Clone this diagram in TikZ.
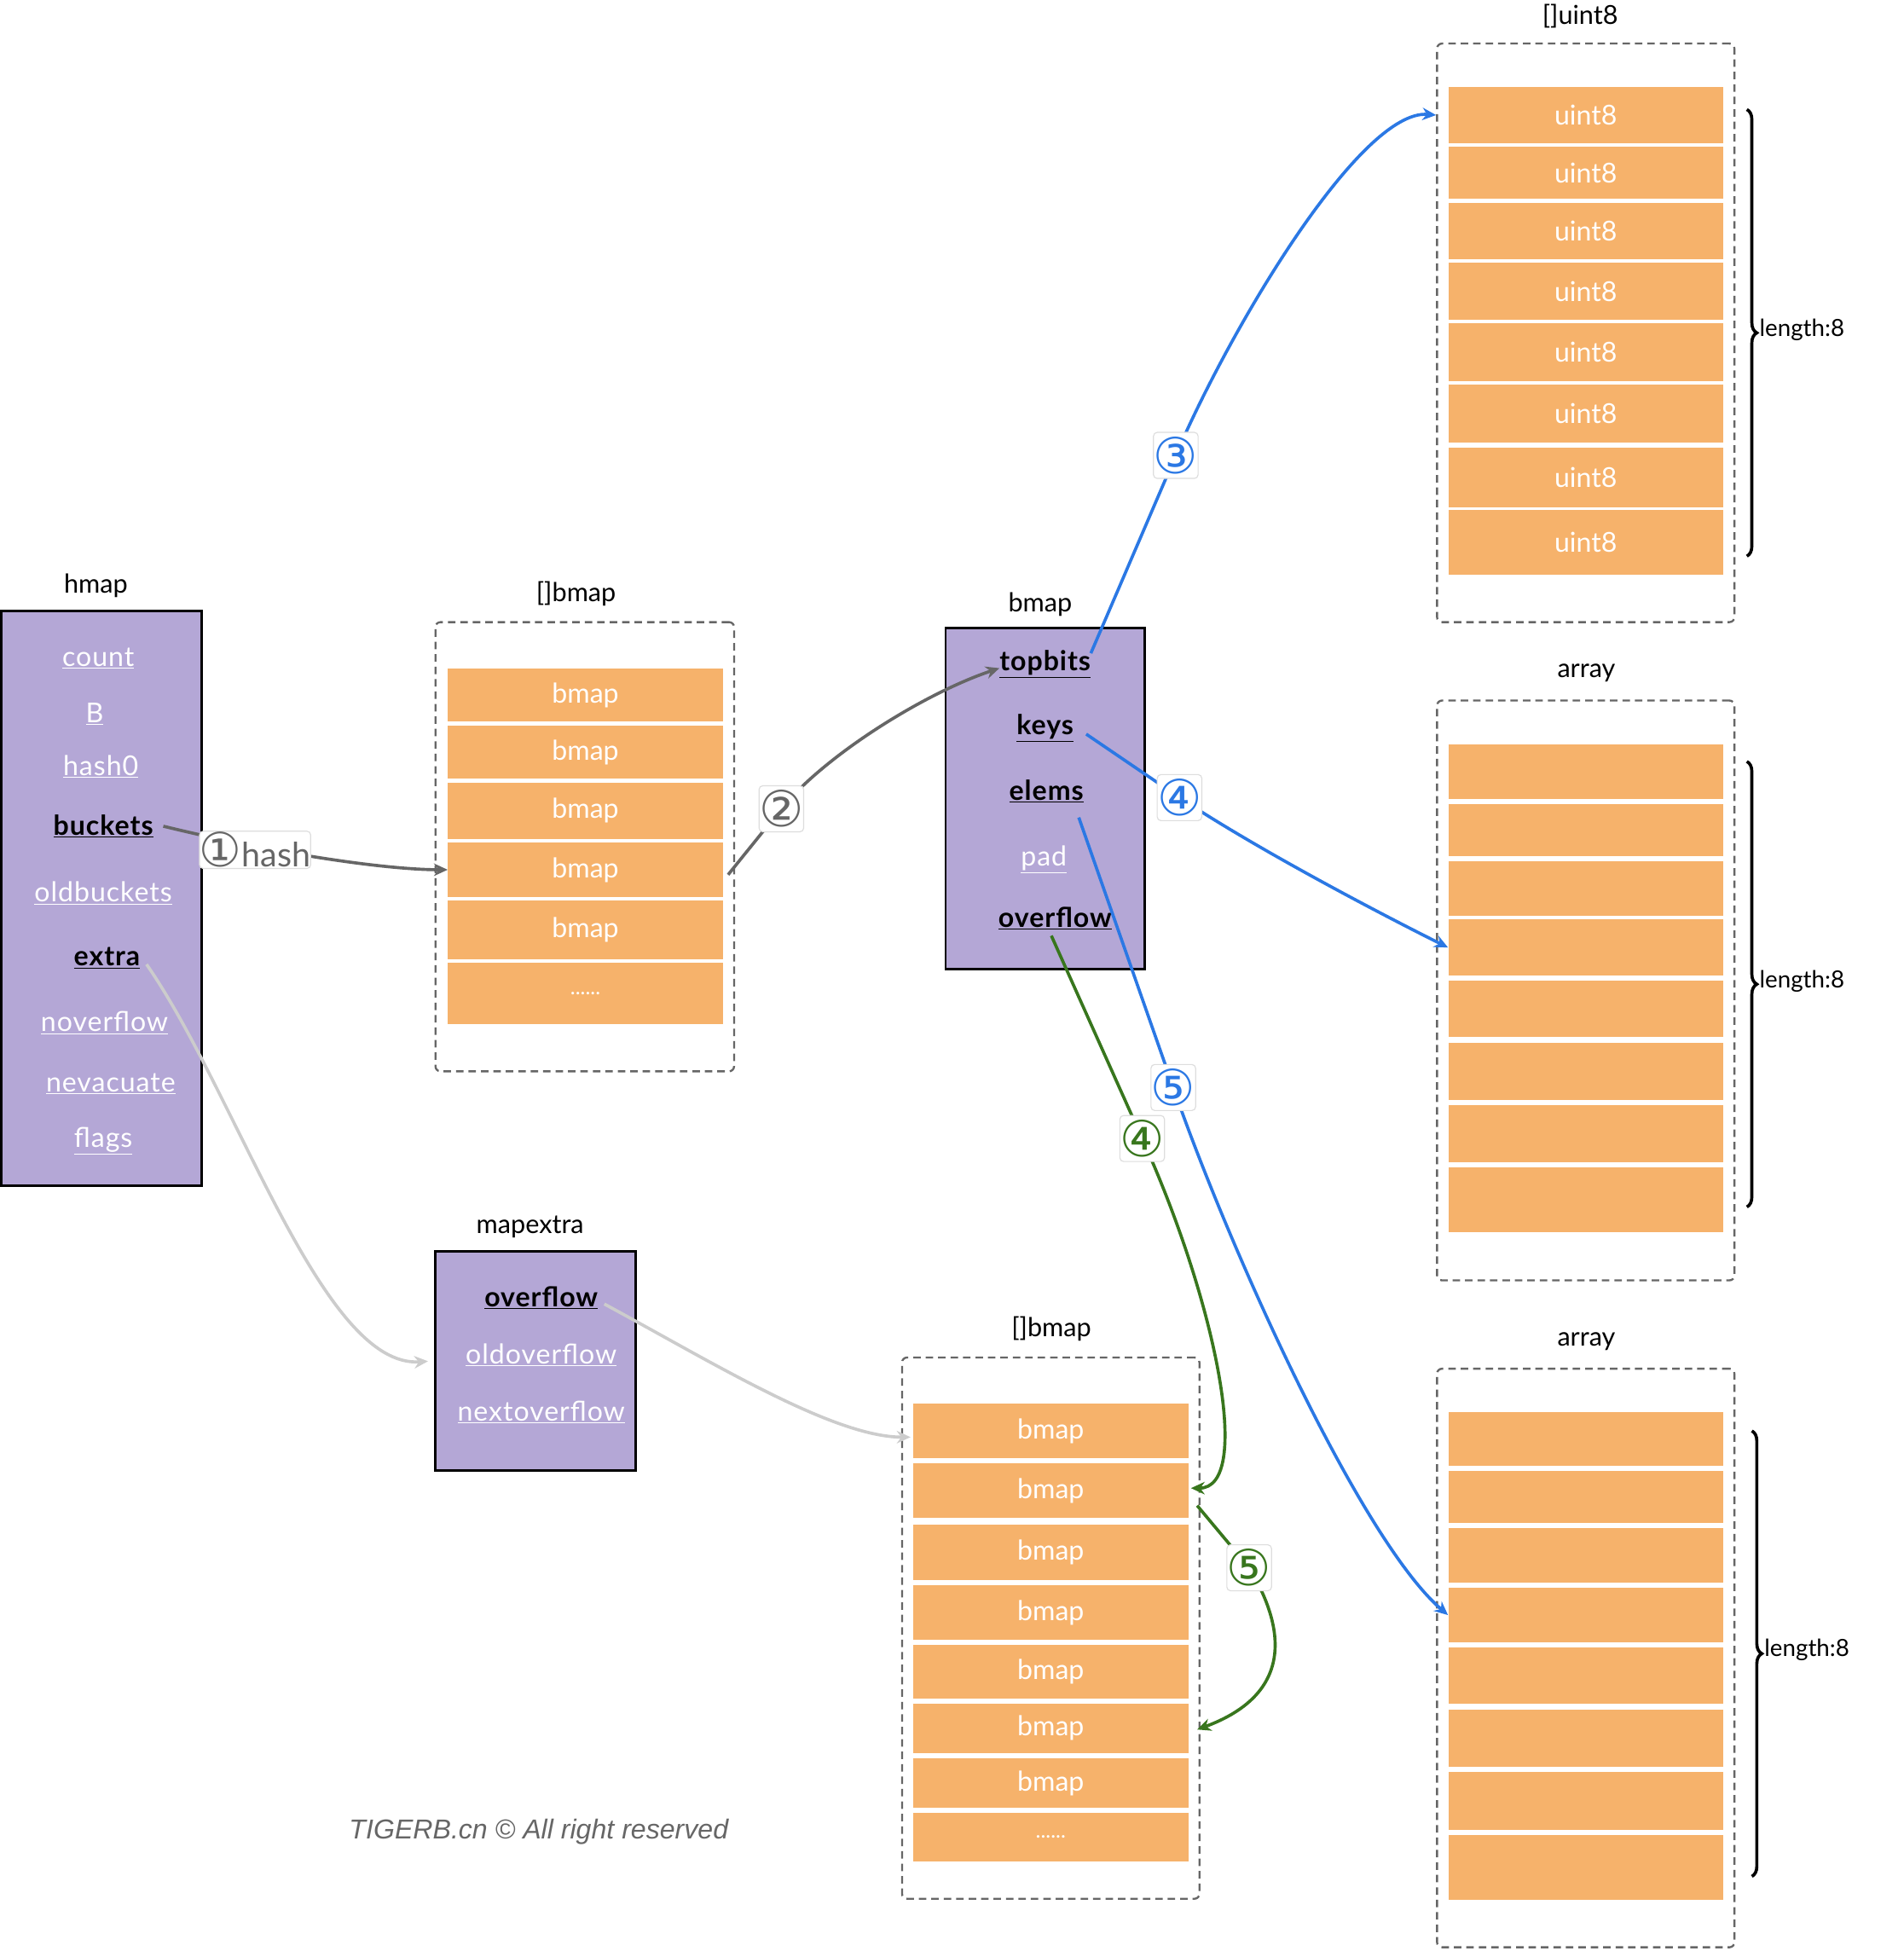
\documentclass[tikz,border=0pt]{standalone}
\usepackage{fontspec}
\setmainfont{Lato}
\newfontfamily\circfont{DejaVu Sans}
\newfontfamily\wmfont{Liberation Sans}
\usetikzlibrary{arrows.meta,decorations.pathreplacing,calc}
\definecolor{purp}{HTML}{B4A7D6}
\definecolor{orng}{HTML}{F6B26B}
\definecolor{bluec}{HTML}{2B78E4}
\definecolor{greenc}{HTML}{38761D}
\definecolor{grayc}{HTML}{666666}
\definecolor{lgray}{HTML}{CCCCCC}
\definecolor{lblc}{HTML}{DDDDDD}
\newcommand\cnum[1]{{\circfont\fontsize{38}{40}\selectfont #1}}
\begin{document}
\begin{tikzpicture}[x=1pt,y=-1pt,
  title/.style={font=\fontsize{21}{24}\selectfont, text=black, inner sep=0},
  fld/.style={font=\fontsize{22}{24}\selectfont\addfontfeatures{LetterSpace=3}, text=white, inner sep=0},
  kfld/.style={font=\fontsize{22}{24}\selectfont\bfseries\addfontfeatures{LetterSpace=3}, text=black, inner sep=0},
  pbox/.style={draw=black, line width=2pt, fill=purp, inner sep=0},
  dbox/.style={draw=grayc, line width=1.6pt, dash pattern=on 6pt off 4pt, rounded corners=4pt, inner sep=0},
  cell/.style={fill=orng, inner sep=0, minimum width=221pt, text=white, font=\fontsize{22}{24}\selectfont},
  dots/.style={font=\fontsize{17}{18}\selectfont},
  lbl/.style={fill=white, draw=lblc, line width=0.8pt, rounded corners=3pt, inner sep=0, minimum width=31pt, minimum height=37pt, font=\circfont\fontsize{40}{42}\selectfont},
  conn/.style={line width=2.5pt},
  tip/.style={-{Stealth[length=11pt,width=10pt]}},
  brc/.style={decorate, decoration={brace, amplitude=8pt}, line width=2.5pt, draw=black},
  lenlbl/.style={font=\fontsize{19}{20}\selectfont, anchor=west, inner sep=0}
]
\fill[white] (0,0) rectangle (1530,1568);
\useasboundingbox (0,0) rectangle (1530,1568);

% ---------- hmap ----------
\node[title] (thm) at (77,471) {hmap};
\node[pbox, minimum width=161pt, minimum height=462pt] (hm) at (81.5,722) {};
\node[fld] (f1) at (79,529) {\underline{count}};
\node[fld] (f2) at (76,574) {\underline{B}};
\node[fld] (f3) at (81,616) {\underline{hash0}};
\node[kfld] (bk) at (83,664) {\underline{buckets}};
\node[fld] (f5) at (83,718) {\underline{oldbuckets}};
\node[kfld] (ex) at (86,770) {\underline{extra}};
\node[fld] (f7) at (84,822) {\underline{noverflow}};
\node[fld] (f8) at (89,871) {\underline{nevacuate}};
\node[fld] (f9) at (83,917) {\underline{flags}};

% ---------- []bmap (top) ----------
\node[title] (tbb1) at (463,477) {[]bmap};
\node[dbox, minimum width=240pt, minimum height=361pt] (bb1) at (470,680.5) {};
\node[cell, minimum height=43pt] (b1) at (470.5,558.5) {bmap};
\node[cell, minimum height=43pt] (b2) at (470.5,604.5) {bmap};
\node[cell, minimum height=45pt] (b3) at (470.5,651.5) {bmap};
\node[cell, minimum height=44pt] (b4) at (470.5,699) {bmap};
\node[cell, minimum height=47pt] (b5) at (470.5,747.5) {bmap};
\node[cell, minimum height=49pt, dots] (b6) at (470.5,798.5) {......};

% ---------- bmap ----------
\node[title] (tbm) at (836,486) {bmap};
\node[pbox, minimum width=160pt, minimum height=274pt] (bm) at (840,642) {};
\node[kfld] (tb) at (840,534) {\underline{topbits}};
\node[kfld] (ky) at (840,585) {\underline{keys}};
\node[kfld] (el) at (841,636) {\underline{elems}};
\node[fld] (pd) at (839,691) {\underline{pad}};
\node[kfld] (ov) at (848,738) {\underline{overflow}};

% ---------- []uint8 ----------
\node[title] (tub) at (1270,13) {[]uint8};
\node[dbox, minimum width=239pt, minimum height=465pt] (ub) at (1274.5,267.5) {};
\node[cell, minimum height=45pt] (u1) at (1274.5,92.5) {uint8};
\node[cell, minimum height=42pt] (u2) at (1274.5,139) {uint8};
\node[cell, minimum height=45pt] (u3) at (1274.5,185.5) {uint8};
\node[cell, minimum height=46pt] (u4) at (1274.5,234) {uint8};
\node[cell, minimum height=46pt] (u5) at (1274.5,283) {uint8};
\node[cell, minimum height=47pt] (u6) at (1274.5,332.5) {uint8};
\node[cell, minimum height=48pt] (u7) at (1274.5,384) {uint8};
\node[cell, minimum height=52pt] (u8) at (1274.5,436) {uint8};
\coordinate (br1a) at (1404,88);
\coordinate (br1b) at (1404,447);
\draw[brc] (br1a) -- (br1b);
\node[lenlbl] (len1) at (1414,265) {length:8};

% ---------- array (1) ----------
\node[title] (ta1) at (1275,541) {array};
\node[dbox, minimum width=239pt, minimum height=466pt] (ab1) at (1274.5,796) {};
\node[cell, minimum height=44pt] (a1) at (1274.5,620) {};
\node[cell, minimum height=42pt] (a2) at (1274.5,667) {};
\node[cell, minimum height=44pt] (a3) at (1274.5,714) {};
\node[cell, minimum height=45pt] (a4) at (1274.5,761.5) {};
\node[cell, minimum height=45pt] (a5) at (1274.5,810.5) {};
\node[cell, minimum height=46pt] (a6) at (1274.5,861) {};
\node[cell, minimum height=46pt] (a7) at (1274.5,911) {};
\node[cell, minimum height=52pt] (a8) at (1274.5,964) {};
\coordinate (br2a) at (1404,612);
\coordinate (br2b) at (1404,970);
\draw[brc] (br2a) -- (br2b);
\node[lenlbl] (len2) at (1414,789) {length:8};

% ---------- array (2) ----------
\node[title] (ta2) at (1275,1078) {array};
\node[dbox, minimum width=239pt, minimum height=465pt] (ab2) at (1274.5,1332.5) {};
\node[cell, minimum height=43pt] (c1) at (1274.5,1156.5) {};
\node[cell, minimum height=42pt] (c2) at (1274.5,1203) {};
\node[cell, minimum height=44pt] (c3) at (1274.5,1250) {};
\node[cell, minimum height=44pt] (c4) at (1274.5,1298) {};
\node[cell, minimum height=45pt] (c5) at (1274.5,1346.5) {};
\node[cell, minimum height=46pt] (c6) at (1274.5,1397) {};
\node[cell, minimum height=47pt] (c7) at (1274.5,1447.5) {};
\node[cell, minimum height=52pt] (c8) at (1274.5,1501) {};
\coordinate (br3a) at (1408,1150);
\coordinate (br3b) at (1408,1508);
\draw[brc] (br3a) -- (br3b);
\node[lenlbl] (len3) at (1418,1326) {length:8};

% ---------- mapextra ----------
\node[title] (tmx) at (426,986) {mapextra};
\node[pbox, minimum width=161pt, minimum height=176pt] (mx) at (430.5,1094) {};
\node[kfld] (mo) at (435,1043) {\underline{overflow}};
\node[fld] (mold) at (435,1089) {\underline{oldoverflow}};
\node[fld] (mnext) at (435,1135) {\underline{nextoverflow}};

% ---------- []bmap (bottom) ----------
\node[title] (tbb2) at (845,1068) {[]bmap};
\node[dbox, minimum width=239pt, minimum height=435pt] (bb2) at (844.5,1308.5) {};
\node[cell, minimum height=44pt] (l1) at (844.5,1150) {bmap};
\node[cell, minimum height=44pt] (l2) at (844.5,1198) {bmap};
\node[cell, minimum height=45pt] (l3) at (844.5,1247.5) {bmap};
\node[cell, minimum height=44pt] (l4) at (844.5,1296) {bmap};
\node[cell, minimum height=43pt] (l5) at (844.5,1343.5) {bmap};
\node[cell, minimum height=40pt] (l6) at (844.5,1389) {bmap};
\node[cell, minimum height=40pt] (l7) at (844.5,1433) {bmap};
\node[cell, minimum height=39pt, dots] (l8) at (844.5,1476.5) {......};

% ---------- watermark ----------
\node[font=\wmfont\itshape\fontsize{22}{24}\selectfont, text=grayc, inner sep=0] (wm) at (433,1472) {TIGERB.cn © All right reserved};

% ---------- connectors ----------
\coordinate (p1) at (205,683);
\coordinate (p2) at (628,650);
\coordinate (p3) at (945,366);
\coordinate (p4b) at (948,641);
\coordinate (p5b) at (943,874);
\coordinate (p4g) at (918,915);
\coordinate (p5g) at (1004,1260);

\draw[conn, grayc, tip] ($(bk.east)+(8,0)$) .. controls +(90,22) and +(-50,0) .. (b4.west);
\draw[conn, grayc, tip] ($(b4.east)+(4,4)$) -- (p2) .. controls +(35,-43) and +(-60,20) .. ($(tb.west)+(0,3)$);
\draw[conn, bluec, tip] ($(tb.east)+(0,-9)$) -- (p3) .. controls +(45,-105) and +(-60,-5) .. (ub.west |- u1.west);
\draw[conn, bluec, tip] ($(ky.east)+(10,5)$) -- (p4b) .. controls +(60,40) and +(-60,-30) .. (a4.west);
\draw[conn, bluec, tip] ($(el.east)+(-4,21)$) -- (p5b) .. controls +(45,130) and +(-70,-60) .. (c4.west);
\draw[conn, greenc, tip] ($(ov.center)+(-3,14)$) -- (p4g) .. controls +(60,133) and +(50,0) .. ($(l2.east)+(2,-2)$);
\draw[conn, greenc, tip] ($(l2.east)+(7,12)$) -- (p5g) .. controls +(36,60) and +(68,-25) .. ($(l6.east)+(7,1)$);
\draw[conn, lgray, tip] ($(ex.east)+(5,5)$) .. controls +(73,105) and +(-85,6) .. ($(mx.west)+(-5,0)$);
\draw[conn, lgray, tip] ($(mo.east)+(5,5)$) .. controls +(87,47) and +(-62,0) .. ($(l1.west)+(-2,5)$);

% ---------- labels on connectors ----------
\node[lbl, minimum width=88pt, minimum height=30pt, text=grayc, font=\fontsize{27}{28}\selectfont] (n1) at (p1) {\cnum{①}hash};
\node[lbl, text=grayc] (n2) at (p2) {②};
\node[lbl, text=bluec] (n3) at (p3) {③};
\node[lbl, text=bluec] (n4b) at (p4b) {④};
\node[lbl, text=bluec] (n5b) at (p5b) {⑤};
\node[lbl, text=greenc] (n4g) at (p4g) {④};
\node[lbl, text=greenc] (n5g) at (p5g) {⑤};
\end{tikzpicture}
\end{document}
